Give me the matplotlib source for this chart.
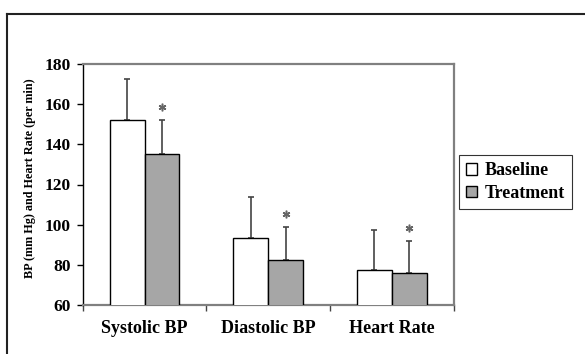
import matplotlib.pyplot as plt
from matplotlib.lines import Line2D
import numpy as np

# values
categories = ['Systolic BP', 'Diastolic BP', 'Heart Rate']
baseline = [152, 93.5, 77.5]
treatment = [135, 82.5, 76]
baseline_sd = [20.5, 20.5, 20]
treatment_sd = [17, 16.5, 16]
yticks = [60, 80, 100, 120, 140, 160, 180]

plt.rcParams['font.family'] = 'Liberation Serif'
plt.rcParams['font.weight'] = 'bold'

fig = plt.figure(figsize=(5.85, 3.54), dpi=100)
ax = fig.add_axes([82.7 / 585, 1 - 305 / 354, (453.5 - 82.7) / 585, (305 - 64) / 354])

x = np.arange(len(categories))
w = 0.283
ax.bar(x - w / 2, baseline, w, color='white', edgecolor='black', linewidth=1, label='Baseline', zorder=3)
ax.bar(x + w / 2, treatment, w, color='#a6a6a6', edgecolor='black', linewidth=1, label='Treatment', zorder=3)

#only upper error bars
ax.errorbar(x - w / 2, baseline, yerr=[[0] * 3, baseline_sd], fmt='none', ecolor='#444444',
            elinewidth=1.2, capsize=2.5, capthick=1.2, zorder=2)
ax.errorbar(x + w / 2, treatment, yerr=[[0] * 3, treatment_sd], fmt='none', ecolor='#444444',
            elinewidth=1.2, capsize=2.5, capthick=1.2, zorder=2)

# significance stars
star_y = [t + s + 6.5 for t, s in zip(treatment, treatment_sd)]
ax.plot(x + w / 2, star_y, linestyle='none', marker=(6, 2, 0), markersize=5.5,
        markeredgewidth=1.1, color='#666666')

ax.set_ylim(60, 180)
ax.set_xlim(-0.5, 2.5)
ax.set_yticks(yticks)
ax.set_xticks(x)
ax.set_xticklabels(categories, fontsize=13, fontweight='bold')
ax.set_xticks([-0.5, 0.5, 1.5, 2.5], minor=True)
ax.tick_params(axis='x', which='major', length=0, pad=11)
ax.tick_params(axis='x', which='minor', length=4, width=1, color='#444444', direction='out')
ax.tick_params(axis='y', length=4.5, width=1, direction='out', labelsize=12.5, pad=4)

ax.spines['left'].set_color('black')
ax.spines['left'].set_linewidth(1)
for s in ['top', 'right', 'bottom']:
    ax.spines[s].set_color('#808080')
    ax.spines[s].set_linewidth(1.6)

fig.text(30 / 585, 1 - 178 / 354, 'BP (mm Hg) and Heart Rate (per min)', rotation=90,
         ha='center', va='center', fontsize=8.7, fontweight='bold')

leg = fig.legend(loc='center', bbox_to_anchor=(515.5 / 585, 1 - 182 / 354), fontsize=13,
                 frameon=True, fancybox=False, edgecolor='black', handlelength=0.6,
                 handleheight=0.6, handletextpad=0.4, borderpad=0.4, labelspacing=0.3)
leg.get_frame().set_linewidth(0.8)
for t in leg.get_texts():
    t.set_fontweight('bold')

# outer frame around the chart
fig.add_artist(Line2D([7 / 585, 1], [1 - 14 / 354, 1 - 14 / 354], color='#222222', linewidth=1.5))
fig.add_artist(Line2D([7 / 585, 7 / 585], [0, 1 - 14 / 354], color='#222222', linewidth=1.5))

fig.savefig('out.png', dpi=100)
